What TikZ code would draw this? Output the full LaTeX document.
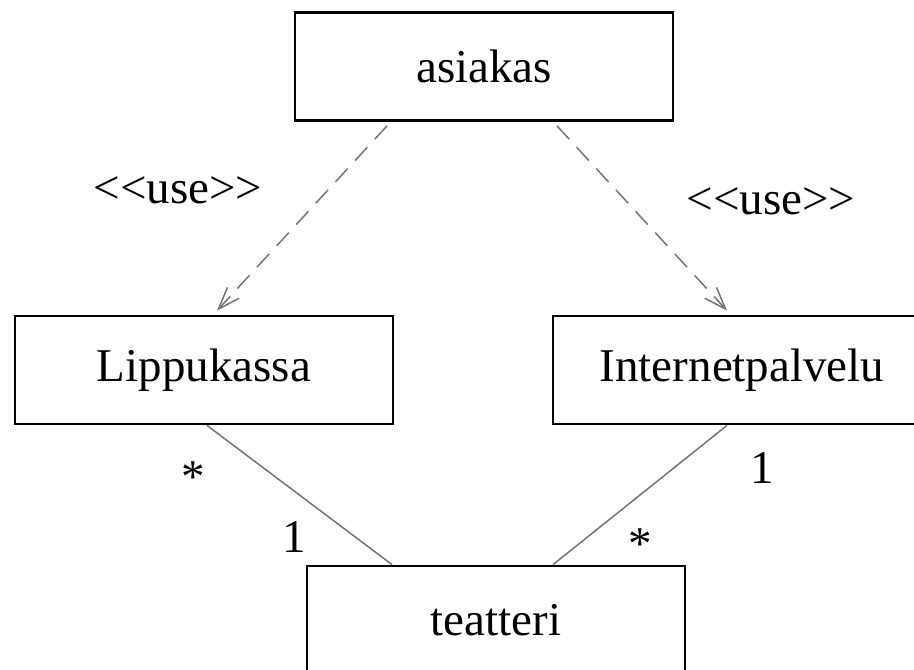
\documentclass[tikz,border=0pt]{standalone}
\usepackage{fontspec}
\setmainfont{Liberation Serif}
\usetikzlibrary{arrows.meta}
\newcommand\stereotyyppi[1]{<\kern0pt<#1>\kern0pt>}
\tikzset{
  luokka/.style={draw, line width=1.4pt, minimum width=189pt, minimum height=54pt,
    inner sep=0pt, font=\fontsize{23.5}{28}\selectfont},
  yhteys/.style={draw=black!55, line width=0.75pt},
  kaytto/.style={yhteys, dash pattern=on 9pt off 5.5pt,
    -{Straight Barb[length=11pt,width=8pt]}},
  merkki/.style={anchor=base, font=\fontsize{23.5}{28}\selectfont},
}
\begin{document}
\begin{tikzpicture}[x=0.5pt,y=-0.5pt]
  \useasboundingbox (0,0) rectangle (914,669);
  \clip (0,0) rectangle (914,669);
  \node[luokka] (asiakas) at (484,66.5) {asiakas};
  \node[luokka] (lippukassa) at (204,370) {Lippukassa};
  \node[luokka] (internet) at (742,370) {Internetpalvelu};
  \node[luokka] (teatteri) at (496,620) {teatteri};
  % use-riippuvuudet
  \draw[kaytto] ([xshift=-48.5pt,yshift=-2pt]asiakas.south) -- ([xshift=6.5pt,yshift=2pt]lippukassa.north);
  \draw[kaytto] ([xshift=36.5pt,yshift=-2pt]asiakas.south) -- ([xshift=-7.5pt,yshift=2pt]internet.north);
  \node[merkki] (use1) at (178,203) {\stereotyyppi{use}};
  \node[merkki] (use2) at (771,214) {\stereotyyppi{use}};
  % assosiaatiot
  \draw[yhteys] ([xshift=1.5pt]lippukassa.south) -- ([xshift=-52pt]teatteri.north);
  \draw[yhteys] ([xshift=-7.5pt]internet.south) -- ([xshift=28.5pt]teatteri.north);
  \node[merkki] (m1) at (193,492) {*};
  \node[merkki] (m2) at (294,552) {1};
  \node[merkki] (m3) at (762,483) {1};
  \node[merkki] (m4) at (640,559) {*};
\end{tikzpicture}
\end{document}
